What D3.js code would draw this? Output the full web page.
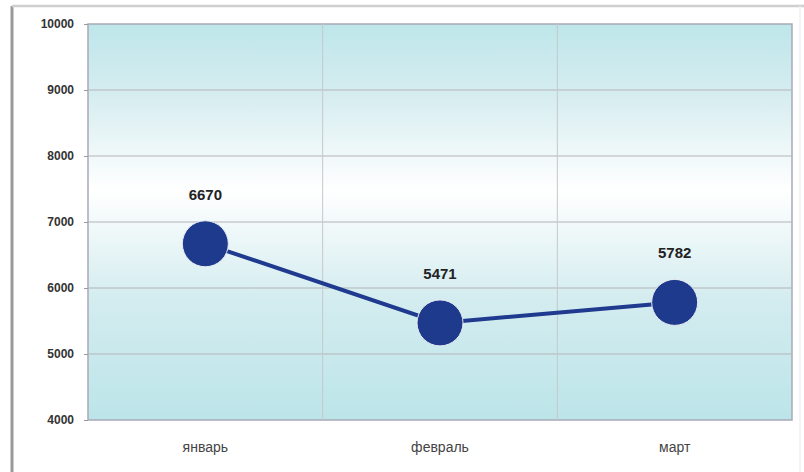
<!DOCTYPE html>
<html><head><meta charset="utf-8">
<script src="https://cdn.jsdelivr.net/npm/d3@7"></script>
<style>body{margin:0;background:#fff;}svg{display:block;}</style>
</head><body>
<svg id="c" width="804" height="472"></svg>
<script>
const categories = ["январь", "февраль", "март"];
const values = [6670, 5471, 5782];
const yTicks = [4000, 5000, 6000, 7000, 8000, 9000, 10000];

const svg = d3.select("#c");
const m = {l: 88, t: 24, r: 792, b: 420};

// outer frame
svg.append("line").attr("x1", 12).attr("x2", 12).attr("y1", 6).attr("y2", 472).attr("stroke", "#9a9a9a").attr("stroke-width", 3);
svg.append("line").attr("x1", 12).attr("x2", 804).attr("y1", 6).attr("y2", 6).attr("stroke", "#cfcfcf").attr("stroke-width", 2.5);
svg.append("line").attr("x1", 800).attr("x2", 800).attr("y1", 6).attr("y2", 472).attr("stroke", "#f0f0f0").attr("stroke-width", 1.5);

const x = d3.scaleBand().domain(categories).range([m.l, m.r]);
const y = d3.scaleLinear().domain([4000, 10000]).range([m.b, m.t]);

const defs = svg.append("defs");
const g = defs.append("linearGradient").attr("id", "bg").attr("x1", 0).attr("x2", 0).attr("y1", 0).attr("y2", 1);
g.append("stop").attr("offset", "0%").attr("stop-color", "#bee6ea");
g.append("stop").attr("offset", "18%").attr("stop-color", "#d6edf0");
g.append("stop").attr("offset", "42%").attr("stop-color", "#ffffff");
g.append("stop").attr("offset", "70%").attr("stop-color", "#d3ecef");
g.append("stop").attr("offset", "100%").attr("stop-color", "#bce5e9");

svg.append("rect").attr("x", m.l).attr("y", m.t).attr("width", m.r - m.l).attr("height", m.b - m.t)
  .attr("fill", "url(#bg)").attr("stroke", "#a9a9b8").attr("stroke-width", 1.5);

// horizontal gridlines
svg.append("g").selectAll("line").data(yTicks.slice(1, -1)).join("line")
  .attr("x1", m.l).attr("x2", m.r).attr("y1", d => y(d)).attr("y2", d => y(d))
  .attr("stroke", "#b4b4b8").attr("stroke-width", 1);
// vertical gridlines
svg.append("g").selectAll("line").data(categories.slice(1)).join("line")
  .attr("x1", d => x(d)).attr("x2", d => x(d)).attr("y1", m.t).attr("y2", m.b)
  .attr("stroke", "#c4c8cc").attr("stroke-width", 1);

// y axis
const ya = svg.append("g").attr("transform", `translate(${m.l},0)`)
  .call(d3.axisLeft(y).tickValues(yTicks).tickSize(4).tickPadding(10).tickFormat(d3.format("d")));
ya.select(".domain").remove();
ya.selectAll("line").attr("stroke", "#999");
ya.selectAll("text").attr("font-family", "Liberation Sans, Arial").attr("font-size", 12)
  .attr("font-weight", "bold").attr("fill", "#333");

// x axis
const xa = svg.append("g").attr("transform", `translate(0,${m.b})`)
  .call(d3.axisBottom(x).tickSize(0).tickPadding(22));
xa.select(".domain").remove();
xa.selectAll("text").attr("font-family", "Liberation Sans, Arial").attr("font-size", 14).attr("fill", "#444");

const pts = categories.map((c, i) => ({c, v: values[i]}));
const cx = d => x(d.c) + x.bandwidth() / 2;

svg.append("path").datum(pts)
  .attr("d", d3.line().x(cx).y(d => y(d.v)))
  .attr("fill", "none").attr("stroke", "#1f3a8e").attr("stroke-width", 4);

svg.append("g").selectAll("circle").data(pts).join("circle")
  .attr("cx", cx).attr("cy", d => y(d.v)).attr("r", 23)
  .attr("fill", "#1e3a8c").attr("stroke", "#e8ecf4").attr("stroke-width", 1);

svg.append("g").selectAll("text").data(pts).join("text")
  .attr("x", cx).attr("y", d => y(d.v) - 44).attr("text-anchor", "middle")
  .attr("font-family", "Liberation Sans, Arial").attr("font-size", 15).attr("font-weight", "bold").attr("fill", "#222")
  .text(d => d.v);
</script>
</body></html>
